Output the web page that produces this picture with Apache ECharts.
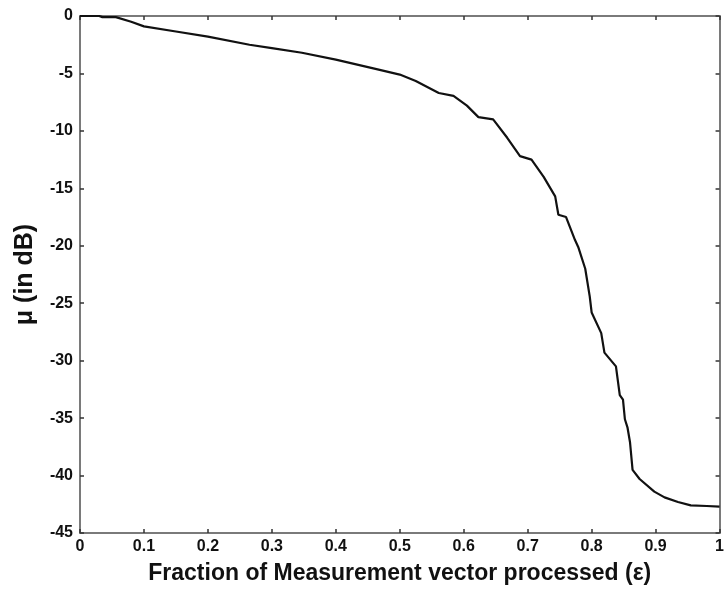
<!DOCTYPE html>
<html>
<head>
<meta charset="utf-8">
<script src="https://cdn.jsdelivr.net/npm/echarts@6/dist/echarts.min.js"></script>
<style>
  html, body { margin: 0; padding: 0; background: #fff; }
  #chart { width: 727px; height: 590px; }
</style>
</head>
<body>
<div id="chart"></div>
<script>
// fraction of measurement vector processed
const fracX = [0, 0.03, 0.035, 0.056, 0.08, 0.1, 0.15, 0.2, 0.265, 0.3, 0.347, 0.4, 0.462, 0.5, 0.525,
  0.561, 0.584, 0.605, 0.623, 0.646, 0.668, 0.688, 0.706, 0.725, 0.743, 0.748, 0.760, 0.774,
  0.779, 0.790, 0.797, 0.800, 0.815, 0.820, 0.838, 0.844, 0.849, 0.852, 0.856, 0.860, 0.864,
  0.875, 0.898, 0.914, 0.935, 0.955, 0.98, 1.0];
// mu in dB
const muDb = [0, 0, -0.1, -0.1, -0.5, -0.9, -1.35, -1.8, -2.5, -2.8, -3.2, -3.8, -4.6, -5.1, -5.65,
  -6.7, -6.95, -7.8, -8.8, -9.0, -10.6, -12.2, -12.5, -14.0, -15.7, -17.3, -17.5, -19.5,
  -20.1, -22.0, -24.4, -25.8, -27.6, -29.3, -30.5, -33.0, -33.4, -35.1, -35.8, -37.1, -39.5,
  -40.3, -41.4, -41.9, -42.3, -42.6, -42.65, -42.7];
const xTicks = ['0', '0.1', '0.2', '0.3', '0.4', '0.5', '0.6', '0.7', '0.8', '0.9', '1'];

const chart = echarts.init(document.getElementById('chart'));
const axisGray = '#7a7a7a';
const labelFont = { fontFamily: 'Liberation Sans, Arial', fontWeight: 'bold', fontSize: 16, color: '#111' };
const boxAxis = {
  axisLine: { show: true, onZero: false, lineStyle: { color: axisGray, width: 2 } },
  axisTick: { show: true, inside: true, length: 4, lineStyle: { color: '#333', width: 1.5 } },
  splitLine: { show: false }
};

chart.setOption({
  animation: false,
  grid: { left: 80, top: 16, right: 4, bottom: 57 },
  xAxis: [
    Object.assign({
      type: 'value', min: 0, max: 1, interval: 0.1, position: 'bottom',
      name: 'Fraction of Measurement vector processed (\u03b5)',
      nameLocation: 'middle', nameGap: 29,
      nameTextStyle: { fontFamily: 'Liberation Sans, Arial', fontWeight: 'bold', fontSize: 23, color: '#111' },
      axisLabel: Object.assign({ margin: 6, formatter: v => xTicks[Math.round(v * 10)] }, labelFont)
    }, boxAxis),
    Object.assign({ type: 'value', min: 0, max: 1, interval: 0.1, position: 'top', axisLabel: { show: false } }, boxAxis)
  ],
  yAxis: [
    Object.assign({
      type: 'value', min: -45, max: 0, interval: 5, position: 'left',
      name: '\u03bc (in dB)', nameLocation: 'middle', nameGap: 42,
      nameTextStyle: { fontFamily: 'Liberation Sans, Arial', fontWeight: 'bold', fontSize: 25, color: '#111' },
      axisLabel: Object.assign({ margin: 7 }, labelFont)
    }, boxAxis),
    Object.assign({ type: 'value', min: -45, max: 0, interval: 5, position: 'right', axisLabel: { show: false } }, boxAxis)
  ],
  series: [{
    type: 'line',
    data: fracX.map((x, i) => [x, muDb[i]]),
    showSymbol: false,
    lineStyle: { color: '#111', width: 2.2 },
    z: 5
  }]
});
</script>
</body>
</html>
